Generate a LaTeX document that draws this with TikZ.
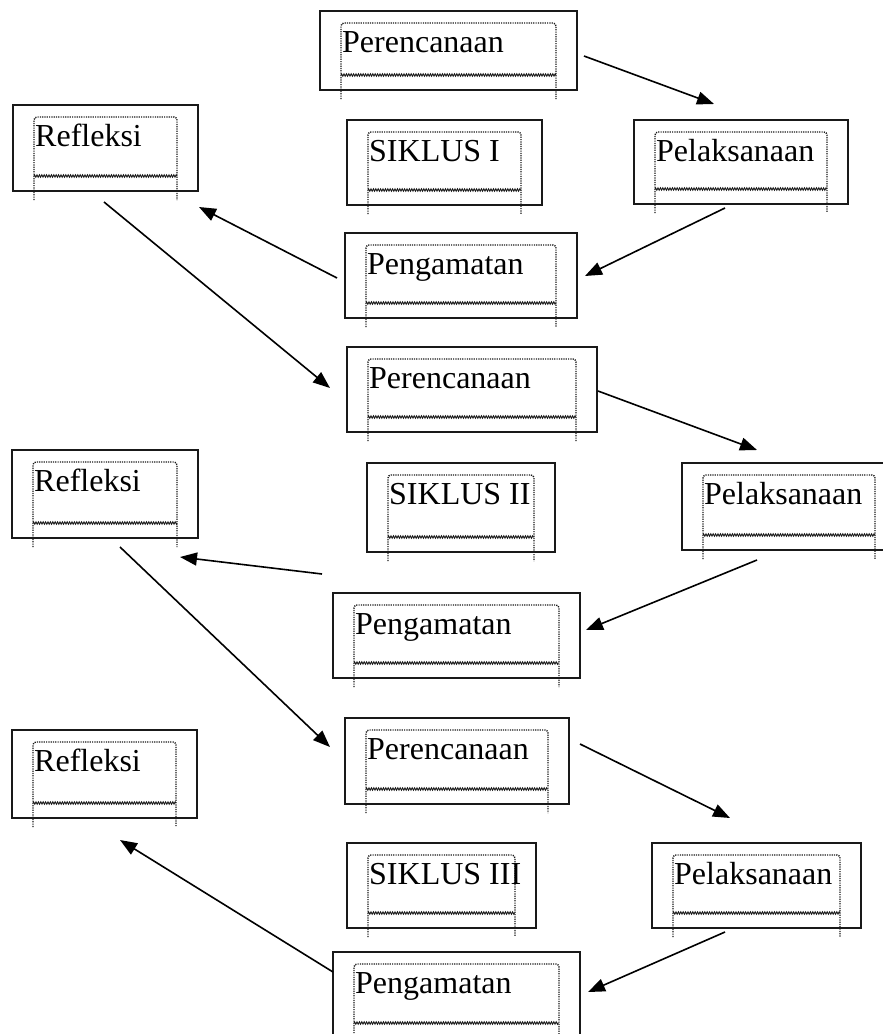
\documentclass[tikz,border=0pt]{standalone}
\usepackage{fontspec}
\setmainfont{Liberation Serif}
\usetikzlibrary{arrows.meta,fit,decorations.pathmorphing}
\tikzset{
 outerbox/.style={draw=black!90, line width=2pt, inner sep=0pt},
 dotbox/.style={line width=1.4pt, dash pattern=on 1.2pt off 1.1pt, black!90},
 wavy/.style={decorate, decoration={zigzag, amplitude=1.2pt, segment length=2.4pt}, line width=0.9pt, black!90},
 lbl/.style={anchor=base west, inner sep=0pt, font=\fontsize{32}{36}\selectfont},
 arr/.style={line width=1.6pt, black, -{Triangle[length=17pt,width=13pt]}},
}
\newcommand{\ptkbox}[6]{%
  \coordinate (#1-a) at (#2,#3);
  \coordinate (#1-b) at (#4,#5);
  \node[outerbox, fit=(#1-a)(#1-b)] (#1) {};
  \draw[dotbox, rounded corners=3pt] ({#2+21},{#5+9}) -- ({#2+21},{#3+12}) -- ({#4-21},{#3+12}) -- ({#4-21},{#5+9});
  \draw[wavy] ({#2+21},{#5-15}) -- ({#4-21},{#5-15});
  \node[lbl] (#1-t) at ({#2+22},{#3+41}) {#6};
}
\begin{document}
\begin{tikzpicture}[x=1pt,y=-1pt]
\clip (0,0) rectangle (883,1034);
\fill[white] (0,0) rectangle (883,1034);
% boxes
\ptkbox{per1}{320}{11}{577}{90}{Perencanaan}
\ptkbox{ref1}{13}{105}{198}{191}{Refleksi}
\ptkbox{sik1}{347}{120}{542}{205}{SIKLUS I}
\ptkbox{pel1}{634}{120}{848}{204}{Pelaksanaan}
\ptkbox{pen1}{345}{233}{577}{318}{Pengamatan}
\ptkbox{per2}{347}{347}{597}{432}{Perencanaan}
\ptkbox{ref2}{12}{450}{198}{538}{Refleksi}
\ptkbox{sik2}{367}{463}{555}{552}{SIKLUS II}
\ptkbox{pel2}{682}{463}{896}{550}{Pelaksanaan}
\ptkbox{pen2}{333}{593}{580}{678}{Pengamatan}
\ptkbox{per3}{345}{718}{569}{804}{Perencanaan}
\ptkbox{ref3}{12}{730}{197}{818}{Refleksi}
\ptkbox{sik3}{347}{843}{536}{928}{SIKLUS III}
\ptkbox{pel3}{652}{843}{861}{928}{Pelaksanaan}
\ptkbox{pen3}{333}{952}{580}{1038}{Pengamatan}
% connector end points
\coordinate (per1-o) at (584,56);   \coordinate (pel1-i) at (714,104);
\coordinate (pel1-o) at (725,208);  \coordinate (pen1-i) at (585,276);
\coordinate (pen1-o) at (337,278);  \coordinate (ref1-i) at (199,207);
\coordinate (ref1-o) at (104,202);  \coordinate (per2-i) at (330,388);
\coordinate (per2-o) at (598,391);  \coordinate (pel2-i) at (757,450);
\coordinate (pel2-o) at (757,560);  \coordinate (pen2-i) at (586,630);
\coordinate (pen2-o) at (322,574);  \coordinate (ref2-i) at (180,557);
\coordinate (ref2-o) at (120,547);  \coordinate (per3-i) at (330,747);
\coordinate (per3-o) at (580,744);  \coordinate (pel3-i) at (730,818);
\coordinate (pel3-o) at (725,932);  \coordinate (pen3-i) at (588,992);
\coordinate (pen3-o) at (333,972);  \coordinate (ref3-i) at (120,840);
% connectors
\draw[arr] (per1-o) -- (pel1-i);
\draw[arr] (pel1-o) -- (pen1-i);
\draw[arr] (pen1-o) -- (ref1-i);
\draw[arr] (ref1-o) -- (per2-i);
\draw[arr] (per2-o) -- (pel2-i);
\draw[arr] (pel2-o) -- (pen2-i);
\draw[arr] (pen2-o) -- (ref2-i);
\draw[arr] (ref2-o) -- (per3-i);
\draw[arr] (per3-o) -- (pel3-i);
\draw[arr] (pel3-o) -- (pen3-i);
\draw[arr] (pen3-o) -- (ref3-i);
\end{tikzpicture}
\end{document}
